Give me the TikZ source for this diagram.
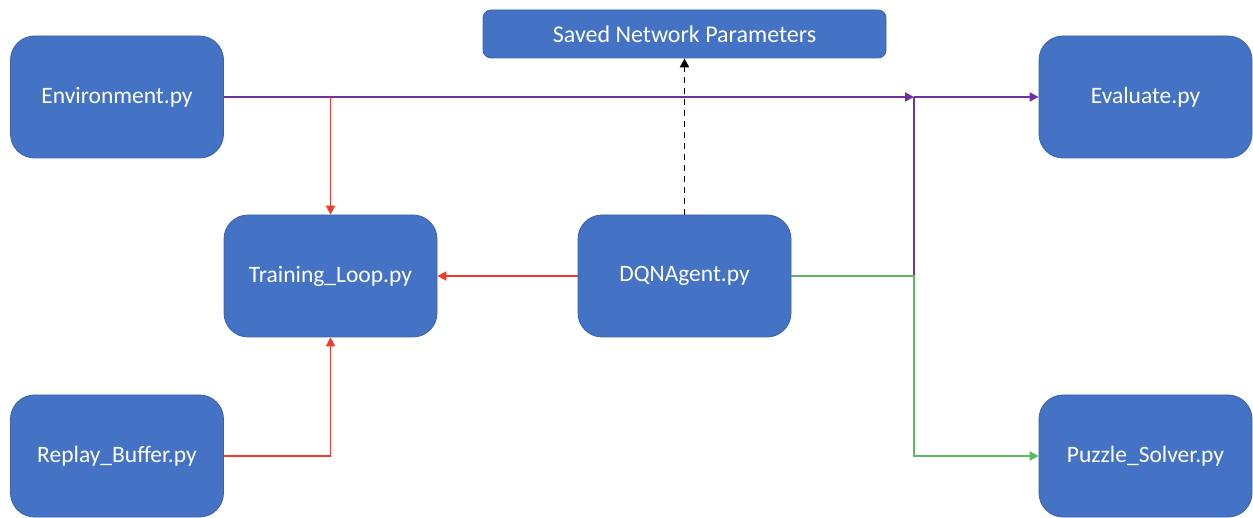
\documentclass[tikz,border=0pt]{standalone}
\usepackage{fontspec}
\setmainfont{Carlito}
\usetikzlibrary{arrows.meta}
\definecolor{boxblue}{HTML}{4472C4}
\definecolor{boxedge}{HTML}{3A62AA}
\definecolor{lnpurple}{HTML}{7030A0}
\definecolor{lnred}{HTML}{F03A2A}
\definecolor{lngreen}{HTML}{5CB85C}
\newcommand{\lowtxt}[1]{\raisebox{-2.5pt}{#1}}
\tikzset{
  bigbox/.style={draw=boxedge, line width=0.8pt, fill=boxblue, rounded corners=24pt,
    minimum width=213pt, minimum height=122pt, inner sep=0pt, text=white, font=\fontsize{23.5}{26}\selectfont},
  savebox/.style={draw=boxedge, line width=0.8pt, fill=boxblue, rounded corners=8pt,
    minimum width=403pt, minimum height=48pt, inner sep=0pt, text=white, font=\fontsize{24}{28}\selectfont},
  conn/.style={line width=1.8pt, -{Triangle[length=9pt,width=9pt]}},
  plainconn/.style={line width=1.8pt},
}
\begin{document}
\begin{tikzpicture}[x=1pt,y=-1pt]
\useasboundingbox (0,0) rectangle (1253,518);
\node[bigbox] (env) at (117,97) {\lowtxt{Environment.py}};
\node[bigbox] (eval) at (1145.5,97) {\lowtxt{Evaluate.py}};
\node[bigbox] (train) at (330.5,276) {\lowtxt{Training\_Loop.py}};
\node[bigbox] (dqn) at (684.5,276) {\lowtxt{DQNAgent.py}};
\node[bigbox] (replay) at (117,456) {\lowtxt{Replay\_Buffer.py}};
\node[bigbox] (puzzle) at (1145.5,456) {\lowtxt{Puzzle\_Solver.py}};
\node[savebox] (saved) at (684.5,34) {Saved Network Parameters};
\coordinate (j1) at (914,97);
\coordinate (j2) at (914,276);
\coordinate (t1) at (330.5,97);
% purple
\draw[conn, lnpurple] (env.east) -- (j1);
\draw[conn, lnpurple] (j1) -- (eval.west);
\draw[plainconn, lnpurple] (j1) -- (j2);
% red
\draw[conn, lnred] (t1) -- (train.north);
\draw[conn, lnred] (dqn.west) -- (train.east);
\draw[conn, lnred] (replay.east) -| (train.south);
% green
\draw[conn, lngreen] (dqn.east) -- (j2) |- (puzzle.west);
% dashed
\draw[conn, black, dashed, dash pattern=on 6pt off 5pt] (dqn.north) -- (saved.south);
\end{tikzpicture}
\end{document}
